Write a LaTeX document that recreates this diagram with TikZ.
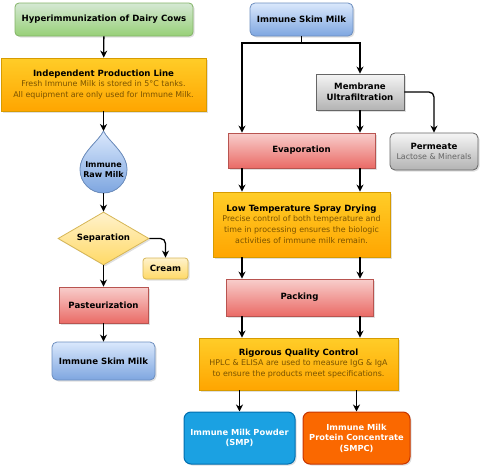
\documentclass[tikz,border=0pt]{standalone}
\usepackage{fontspec}
\setmainfont{DejaVu Sans}
\usetikzlibrary{shapes.geometric,arrows.meta,shadows}
\definecolor{grnT}{HTML}{D5E8D4}
\definecolor{grnB}{HTML}{97D077}
\definecolor{grnD}{HTML}{82B366}
\definecolor{orgT}{HTML}{FFCD28}
\definecolor{orgB}{HTML}{FFA500}
\definecolor{orgD}{HTML}{D79B00}
\definecolor{bluT}{HTML}{DAE8FC}
\definecolor{bluB}{HTML}{7EA6E0}
\definecolor{bluD}{HTML}{6C8EBF}
\definecolor{redT}{HTML}{F8CECC}
\definecolor{redB}{HTML}{EA6B66}
\definecolor{redD}{HTML}{B85450}
\definecolor{gryT}{HTML}{F5F5F5}
\definecolor{gryB}{HTML}{B3B3B3}
\definecolor{gryD}{HTML}{666666}
\definecolor{ylwT}{HTML}{FFF2CC}
\definecolor{ylwB}{HTML}{FFD966}
\definecolor{ylwD}{HTML}{D6B656}
\definecolor{smpF}{HTML}{1BA1E2}
\definecolor{smpD}{HTML}{006EAF}
\definecolor{smpcF}{HTML}{FA6800}
\definecolor{smpcD}{HTML}{C73500}
\definecolor{descC}{HTML}{7A5200}
\newcommand{\subtext}[1]{{\fontsize{7.9}{10}\selectfont\mdseries\color{descC}#1}}
\begin{document}
\begin{tikzpicture}[x=1pt,y=-1pt,
  box/.style={draw, line width=0.8pt, align=center, inner sep=2pt,
    font=\fontsize{8.6}{11}\selectfont\bfseries,
    drop shadow={opacity=0.25,shadow xshift=1.5pt,shadow yshift=-1.5pt}},
  greenbox/.style={box, draw=grnD, top color=grnT, bottom color=grnB, rounded corners=4pt},
  orangebox/.style={box, draw=orgD, top color=orgT, bottom color=orgB},
  bluebox/.style={box, draw=bluD, top color=bluT, bottom color=bluB, rounded corners=5pt},
  redbox/.style={box, draw=redD, top color=redT, bottom color=redB},
  graybox/.style={box, draw=gryD, top color=gryT, bottom color=gryB},
  yellowbox/.style={box, draw=ylwD, top color=ylwT, bottom color=ylwB},
  productbox/.style={box, rounded corners=7pt, text=white, line width=1pt,
    font=\fontsize{8.3}{10.5}\selectfont\bfseries},
  flow/.style={-{Stealth[length=7pt,width=7pt,inset=2.2pt]}, line width=1.3pt}]
\useasboundingbox (0,0) rectangle (480,466);

\node[greenbox, minimum width=178pt, minimum height=33pt] (hyper) at (104,19.5) {Hyperimmunization of Dairy Cows};
\node[orangebox, minimum width=205pt, minimum height=53pt] (indep) at (103.5,84.5) {Independent Production Line\\[-1pt]
  \subtext{Fresh Immune Milk is stored in 5°C tanks.}\\\subtext{All equipment are only used for Immune Milk.}};
\fill[top color=bluT, bottom color=bluB, draw=bluD, line width=0.8pt]
  (103.5,131) .. controls (108,141) and (127,153) .. (127,169.5)
  .. controls (127,182.5) and (116.5,193) .. (103.5,193)
  .. controls (90.5,193) and (80,182.5) .. (80,169.5)
  .. controls (80,153) and (99,141) .. cycle;
\coordinate (tip) at (103.5,131);
\node[circle, minimum size=47pt, inner sep=0pt, align=center,
  font=\fontsize{8}{10}\selectfont\bfseries] (raw) at (103.5,169.5) {Immune\\Raw Milk};
\node[yellowbox, diamond, aspect=1.7, inner sep=0pt, minimum width=91pt, minimum height=53pt] (sep) at (103.5,238.5) {Separation};
\node[yellowbox, rounded corners=3pt, minimum width=45pt, minimum height=21pt] (cream) at (165.5,268.5) {Cream};
\node[redbox, minimum width=89pt, minimum height=36pt] (past) at (103.5,305) {Pasteurization};
\node[bluebox, minimum width=103pt, minimum height=38pt] (skimL) at (103.5,361) {Immune Skim Milk};

\node[bluebox, minimum width=103pt, minimum height=33pt] (skimR) at (301.5,19.5) {Immune Skim Milk};
\node[graybox, minimum width=88pt, minimum height=36pt] (memb) at (360,92) {Membrane\\Ultrafiltration};
\node[graybox, rounded corners=5pt, minimum width=88pt, minimum height=37pt] (perm) at (434,151.5) {Permeate\\[-1pt]
  {\fontsize{7.9}{10}\selectfont\mdseries\color{gryD}Lactose \& Minerals}};
\node[redbox, minimum width=147pt, minimum height=35pt] (evap) at (301.5,150.5) {Evaporation};
\node[orangebox, minimum width=177pt, minimum height=65pt] (ltsd) at (301.5,224.5) {Low Temperature Spray Drying\\[-1pt]
  \subtext{Precise control of both temperature and}\\\subtext{time in processing ensures the biologic}\\\subtext{activities of immune milk remain.}};
\node[redbox, minimum width=147pt, minimum height=37pt] (pack) at (299.5,297.5) {Packing};
\node[orangebox, minimum width=199pt, minimum height=52pt] (rqc) at (298.5,364) {Rigorous Quality Control\\[-1pt]
  \subtext{HPLC \& ELISA are used to measure IgG \& IgA}\\\subtext{to ensure the products meet specifications.}};
\node[productbox, draw=smpD, fill=smpF, minimum width=111pt, minimum height=52pt] (smp) at (239.5,438) {Immune Milk Powder\\(SMP)};
\node[productbox, draw=smpcD, fill=smpcF, minimum width=107pt, minimum height=52pt] (smpc) at (356.5,438) {Immune Milk\\Protein Concentrate\\(SMPC)};

\coordinate (laneL) at (242,0);
\coordinate (laneR) at (360,0);
\coordinate (split) at (301.5,43);

\draw[flow] (hyper) -- (indep);
\draw[flow] (indep) -- (tip);
\draw[flow] (raw) -- (sep);
\draw[flow, rounded corners=5pt] (sep.east) -| (cream.north);
\draw[flow] (sep) -- (past);
\draw[flow] (past) -- (skimL);

\draw[line width=1.3pt] (skimR) -- (split);
\draw[flow] (split) -| (evap.north -| laneL);
\draw[flow] (split) -| (memb.north);
\draw[flow] (memb) -- (evap.north -| laneR);
\draw[flow, rounded corners=5pt] (memb.east) -| (perm.north);
\draw[flow] (evap.south -| laneL) -- (ltsd.north -| laneL);
\draw[flow] (evap.south -| laneR) -- (ltsd.north -| laneR);
\draw[flow] (ltsd.south -| laneL) -- (pack.north -| laneL);
\draw[flow] (ltsd.south -| laneR) -- (pack.north -| laneR);
\draw[flow] (pack.south -| laneL) -- (rqc.north -| laneL);
\draw[flow] (pack.south -| laneR) -- (rqc.north -| laneR);
\draw[flow] (rqc.south -| smp) -- (smp);
\draw[flow] (rqc.south -| smpc) -- (smpc);
\end{tikzpicture}
\end{document}
